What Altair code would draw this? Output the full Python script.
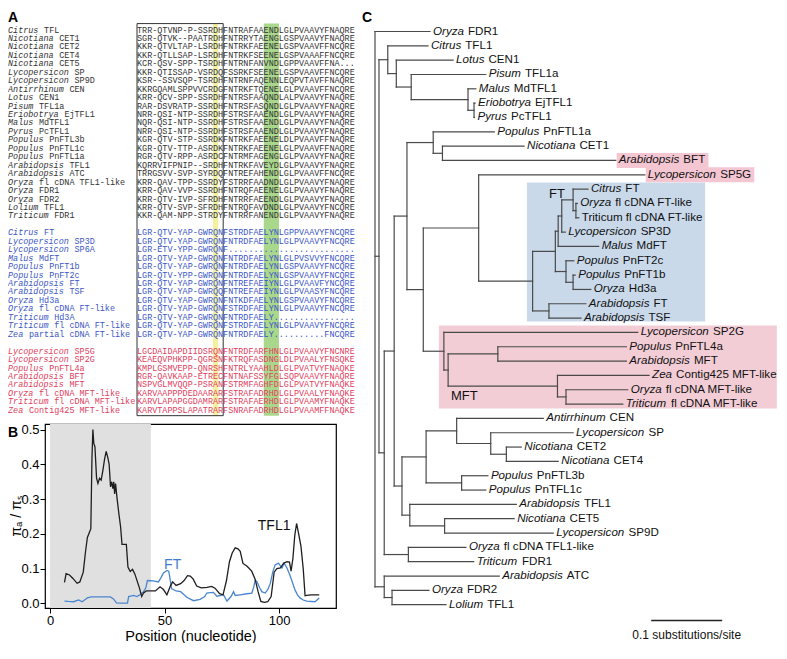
import altair as alt
import pandas as pd

# ================= Panel A : alignment =================
tfl_names = ["Citrus TFL", "Nicotiana CET1", "Nicotiana CET2", "Nicotiana CET4", "Nicotiana CET5",
             "Lycopersicon SP", "Lycopersicon SP9D", "Antirrhinum CEN", "Lotus CEN1", "Pisum TFL1a",
             "Eriobotrya EjTFL1", "Malus MdTFL1", "Pyrus PcTFL1", "Populus PnFTL3b", "Populus PnFTL1c",
             "Populus PnFTL1a", "Arabidopsis TFL1", "Arabidopsis ATC", "Oryza fl cDNA TFL1-like",
             "Oryza FDR1", "Oryza FDR2", "Lolium TFL1", "Triticum FDR1"]
tfl_seqs = ["TRR-QTVNP-P-SSRDHFNTRAFAAENDLGLPVAAVYFNAQRE",
            "SGR-QTVK--PAATRDHFNTRRYTAENGLGSPVAAVYFNAQRE",
            "KKR-QTVLTAP-LSRDHFNTRKFAEENELGSPVAAVFFNCQRE",
            "KKR-QTLLSAP-LSRDHFNTRKFSEENELGSPVAAAFFNCQRE",
            "KCR-QSV-SPP-TSRDHFNTRNFANVNDLGPPVAAVFFNA...",
            "KKR-QTISSAP-VSRDQFSSRKFSEENELGSPVAAVFFNCQRE",
            "KSR--SSVSQP-TSRDHFNTRNFAQENNLEQPVTAVFFNAQRE",
            "KKRGQAMLSPPVVCRDGFNTRKFTQENELGLPVAAVFFNCQRE",
            "KRR-QCV-SPP-SSRDHFNTRSFAAQNDLALPVAAVYFNAQRE",
            "RAR-DSVRATP-SSRDHFNTRSFASQNDLGLPVAAVYFNAQRE",
            "NRR-QSI-NTP-SSRDHFSTRSFAAENDLGLPVAAVYFNAQRE",
            "NQR-QSI-NTP-SSRDHFSTRSFAAENDLGLPVAAVYFNAQRE",
            "NRR-QSI-NTP-SSRDHFSTRSFAAENDLGLPVAAVYFNAQRE",
            "KGR-QTV-STP-SSRDKFNTRKFAEENELDLPVAAVFFNAQRE",
            "KGR-QTV-TTP-ASRDKFNTRKFAEENELGLPVAAVFFNAQRE",
            "RGR-QTV-RPP-ASRDCFNTRMFAGENGLGLPVAAVYFNAQRE",
            "KQRRVIFPNIP--SRDHFNTRKFAVEYDLGLPVAAVYFNAQRE",
            "TRRGSVV-SVP-SYRDQFNTREFAHENDLGLPVAAVFFNCQRE",
            "KRR-QAV-TPP-SSRDYFSTRRFAADNDLGLPVAAVYFNAQRE",
            "KRR-QAV-VVP-SSRDHFNTRQFAEENELGLPVAAVYFNAQRE",
            "KRR-QTV-IVP-SFRDHFNTRRFAEENDLGLPVAAVYFNAQRE",
            "KRR-QTV-SVP-SFRDHFNTRQFAVDNDLGLPVAAVYFNCQRE",
            "KKR-QAM-NPP-STRDYFNTRRFANENDLGLPVAAVYFNAQRE"]
ft_names = ["Citrus FT", "Lycopersicon SP3D", "Lycopersicon SP6A", "Malus MdFT", "Populus PnFT1b",
            "Populus PnFT2c", "Arabidopsis FT", "Arabidopsis TSF", "Oryza Hd3a", "Oryza fl cDNA FT-like",
            "Triticum Hd3A", "Triticum fl cDNA FT-like", "Zea partial cDNA FT-like"]
ft_seqs = ["LGR-QTV-YAP-GWRQNFSTRDFAELYNLGPPVAAVYFNCQRE",
           "LGR-QTV-YAP-GWRQNFNTRDFAELYNLGLPVAAVYFNCQRE",
           "LGR-ETV-YPP-GWRQNF.........................",
           "LGR-QTV-YAP-GWRQNFNTRDFAELYNLGLPVSVVYFNCQRE",
           "LGR-QTV-YAP-GWRQNFNTRDFAELYNLGSPVAAVYFNCQRE",
           "LGR-QTV-YPP-GWRQNFNTRDFAELYNLGSPVAAVYFNCQRE",
           "LGR-QTV-YAP-GWRQNFNTREFAEIYNLGLPVAAVFYNCQRE",
           "LGR-QTV-YAP-GWRQQFNTREFAEIYNLGLPVAASYFNCQRE",
           "LGR-QTV-YAP-GWRQNFNTKDFAELYNLGSPVAAVYFNCQRE",
           "LGR-QTV-YAP-GWRQNFSTRDFAELYNLGLPVAAVYFNCQRE",
           "LGR-QTV-YAP-GWRQNFNTRDFAELY................",
           "LGR-QTV-YAP-GWRQNFSTRDFAELYNLGLPVAAVYFNCQRE",
           "LGR-QTV-YAP-GWRQNFNTRDFAELY..........FNCQRE"]
mft_names = ["Lycopersicon SP5G", "Lycopersicon SP2G", "Populus PnFTL4a", "Arabidopsis BFT",
             "Arabidopsis MFT", "Oryza fl cDNA MFT-like", "Triticum fl cDNA MFT-like", "Zea Contig425 MFT-like"]
mft_seqs = ["LGCDAIDAPDIIDSRQNFNTRDFARFHNLGLPVAAVYFNCNRE",
            "KEAEQVPHKPP-QGRSNFKTRQFASDNGLDLPVAALYFNSQKE",
            "KMPLGSMVEPP-QNRSHFNTRLYAAHLDLGLPVATVYFNAQKE",
            "RGR-QAVKAAP-ETRECFNTNAFSSYFGLSQPVAAVYFNAQRE",
            "NSPVGLMVQQP-PSRANFSTRMFAGHFDLGLPVATVYFNAQKE",
            "KARVAAPPPDEDAARARFSTRAFADRHDLGLPVAALYFNAQKE",
            "KARVLAPAPGGDAMRARFSTRAFAERHDLGLPVAAMYFNAQKE",
            "KARVTAPPSLAPATRARFSNRAFADRHDLGLPVAAMFFNAQKE"]
yellow_cols = [16, 16]   # highlighted alignment columns (1-based, inclusive)
green_cols = [26, 28]
box_cols = [1, 17]

# ================= Panel B : pi_a / pi_s =================
tfl1_pos = [6.3, 7.0, 8.5, 10.0, 11.8, 13.0, 14.5, 15.5, 16.3, 17.2,
            17.8, 18.3, 18.7, 19.1, 19.6, 20.3, 20.9, 21.6, 22.3, 23.0,
            23.8, 24.5, 25.2, 25.8, 26.4, 26.9, 27.4, 27.8, 28.2, 28.6,
            29.2, 30.0, 30.8, 31.4, 32.2, 33.3, 34.0, 35.0, 36.0, 37.0,
            38.0, 39.0, 40.0, 40.8, 42.0, 44.0, 46.0, 48.0, 49.5, 51.0,
            52.5, 53.5, 55.0, 57.0, 58.5, 60.0, 61.2, 62.5, 64.0, 66.0,
            68.5, 70.5, 72.0, 74.0, 75.5, 77.0, 78.3, 79.5, 80.8, 82.0,
            83.0, 84.2, 86.0, 88.0, 89.5, 90.8, 92.0, 93.5, 95.0, 96.5,
            97.8, 99.0, 100.5, 102.0, 103.5, 104.5, 105.2, 106.0, 106.8, 107.6,
            108.5, 109.5, 110.5, 111.3, 112.0, 114.0, 116.0, 117.5]
tfl1_val = [0.061, 0.086, 0.082, 0.072, 0.058, 0.062, 0.09, 0.15, 0.19, 0.205,
            0.215, 0.42, 0.50, 0.46, 0.45, 0.36, 0.345, 0.36, 0.355, 0.38,
            0.415, 0.437, 0.42, 0.40, 0.335, 0.35, 0.33, 0.35, 0.315, 0.345,
            0.305, 0.26, 0.22, 0.17, 0.17, 0.17, 0.105, 0.092, 0.098, 0.085,
            0.065, 0.045, 0.02, 0.03, 0.036, 0.036, 0.036, 0.048, 0.04, 0.025,
            0.05, 0.062, 0.052, 0.057, 0.066, 0.08, 0.079, 0.07, 0.05, 0.045,
            0.046, 0.049, 0.044, 0.028, 0.025, 0.066, 0.12, 0.145, 0.16, 0.157,
            0.15, 0.115, 0.107, 0.093, 0.07, 0.034, 0.006, 0.003, 0.005, 0.02,
            0.09, 0.1, 0.102, 0.116, 0.12, 0.119, 0.093, 0.13, 0.195, 0.23,
            0.2, 0.165, 0.1, 0.022, 0.023, 0.025, 0.025, 0.025]
ft_pos = [6.3, 8.0, 10.3, 12.5, 14.0, 15.5, 16.3, 18.0, 22.0, 26.3,
          27.7, 29.0, 31.0, 33.8, 34.3, 36.5, 37.9, 39.2, 40.8, 41.8,
          42.5, 45.0, 47.3, 48.5, 49.5, 51.0, 51.8, 52.4, 53.0, 55.0,
          57.0, 59.7, 62.6, 65.5, 67.5, 68.4, 70.0, 71.3, 72.8, 75.7,
          77.2, 79.0, 80.1, 80.8, 83.0, 85.9, 88.1, 89.0, 89.5, 90.2,
          91.5, 92.4, 93.9, 95.0, 96.1, 97.2, 98.2, 99.7, 101.2, 102.2,
          103.4, 104.5, 105.5, 106.9, 108.0, 109.1, 110.5, 112.0, 115.6, 116.5,
          117.5]
ft_val = [0.007, 0.006, 0.005, 0.01, 0.005, 0.012, 0.016, 0.019, 0.019, 0.019,
          0.013, 0.002, 0.001, 0.001, 0.02, 0.023, 0.02, 0.025, 0.034, 0.045,
          0.066, 0.065, 0.062, 0.075, 0.088, 0.095, 0.093, 0.07, 0.043, 0.036,
          0.034, 0.018, 0.008, 0.012, 0.02, 0.03, 0.031, 0.032, 0.021, 0.025,
          0.007, 0.02, 0.034, 0.023, 0.025, 0.028, 0.030, 0.05, 0.066, 0.064,
          0.045, 0.034, 0.03, 0.04, 0.057, 0.09, 0.111, 0.116, 0.102, 0.116,
          0.102, 0.085, 0.066, 0.039, 0.025, 0.016, 0.01, 0.007, 0.005, 0.01,
          0.016]
shade_pos = [0, 44]
x_ticks = [0, 50, 100]
y_ticks = [0.0, 0.1, 0.2, 0.3, 0.4, 0.5]
series_labels = [("TFL1", 97.8, 0.224), ("FT", 53.5, 0.112)]

# ================= Panel C : tree =================
leaf_genus = ["Oryza", "Citrus", "Lotus", "Pisum", "Malus", "Eriobotrya", "Pyrus", "Populus", "Nicotiana",
              "Arabidopsis", "Lycopersicon", "Citrus", "Oryza", "", "Lycopersicon", "Malus", "Populus",
              "Populus", "Oryza", "Arabidopsis", "Arabidopsis", "Lycopersicon", "Populus", "Arabidopsis",
              "Zea", "Oryza", "Triticum", "Antirrhinum", "Lycopersicon", "Nicotiana", "Nicotiana", "Populus",
              "Populus", "Arabidopsis", "Nicotiana", "Lycopersicon", "Oryza", "Triticum", "Arabidopsis",
              "Oryza", "Lolium"]
leaf_rest = ["FDR1", "TFL1", "CEN1", "TFL1a", "MdTFL1", "EjTFL1", "PcTFL1", "PnFTL1a", "CET1", "BFT", "SP5G",
             "FT", "fl cDNA FT-like", "Triticum fl cDNA FT-like", "SP3D", "MdFT", "PnFT2c", "PnFT1b", "Hd3a",
             "FT", "TSF", "SP2G", "PnFTL4a", "MFT", "Contig425 MFT-like", "fl cDNA MFT-like",
             "fl cDNA MFT-like", "CEN", "SP", "CET2", "CET4", "PnFTL3b", "PnTFL1c", "TFL1", "CET5", "SP9D",
             "fl cDNA TFL1-like", "FDR1", "ATC", "FDR2", "TFL1"]
leaf_tip = [0.0775, 0.0746, 0.110, 0.156, 0.142, 0.141, 0.140, 0.168, 0.210, 0.339,
            0.380, 0.300, 0.285, 0.287, 0.268, 0.315, 0.280, 0.282, 0.304, 0.297,
            0.290, 0.370, 0.354, 0.354, 0.386, 0.356, 0.349, 0.237, 0.279, 0.206,
            0.258, 0.159, 0.156, 0.199, 0.196, 0.251, 0.128, 0.139, 0.175, 0.076,
            0.100]
# internal node = [depth, child, child, ...]; leaf = index into the leaf lists
tree = [0.0,
        0,
        [0.0056,
         [0.018, 1, [0.030, 2, [0.051, 3, [0.131, 4, [0.1395, 5, 6]]]]],
         [0.013,
          [0.027,
           [0.045,
            [0.082, 7, [0.095, 8, 9]],
            [0.068,
             [0.146, 10,
              [0.222,
               [0.254,
                [0.258, [0.263, [0.279, 11, [0.283, 12, 13]], 14], 15],
                [0.269, 16, [0.279, 17, 18]]],
               [0.245, 19, 20]]],
             [0.097, 21, [0.103, [0.173, 22, 23], [0.257, 24, [0.269, 25, 26]]]]]],
           [0.038,
            [0.072, [0.115, 27, [0.163, 28, [0.185, 29, 30]]], [0.122, 31, 32]],
            [0.049, 33, [0.098, 34, 35]]]],
          [0.047, 36, 37]]],
        [0.013, 38, [0.024, 39, 40]]]
highlighted_leaves = [9, 10]
clade_boxes = [("FT", 0.214, 0.465, 10.54, 20.24, "#c9d9ea", 0.245, 11.37),
               ("MFT", 0.090, 0.566, 20.52, 26.31, "#f3cdd6", 0.107, 25.47)]
scale_bar = 0.1

# ================= layout (page pixels) =================
FONT = "Liberation Sans"
MONO = "Liberation Mono"
PX0, PY0 = 45, 423            # page position of panel B's plot area
B_W, B_H = 291, 184
CW, ROW_H = 5.07, 8.45        # alignment character width / row height
A_LEFT, A_TOP = 8, 28.5       # page x of name column, page y of first row
LEAF_TOP, LEAF_H = 30.5, 14.33
ROOT_X, PX_PER_DEPTH = 375, 710.0
A_X = [A_LEFT - PX0, A_LEFT - PX0 + 100 * CW]
A_Y = [A_TOP - PY0, A_TOP - PY0 + 45 * ROW_H]
C_X = [ROOT_X - PX0, ROOT_X - PX0 + 0.5 * PX_PER_DEPTH]
C_Y = [LEAF_TOP - PY0, LEAF_TOP - PY0 + 40 * LEAF_H]
SEQ0 = (137 - A_LEFT) / CW    # column where sequences start
TREE_FS = 11.6
LETTER_TOP = 10

W = {' ': 278, '-': 333, '.': 278,
     'A': 667, 'B': 667, 'C': 722, 'D': 722, 'E': 667, 'F': 611, 'G': 778, 'H': 722, 'I': 278,
     'J': 500, 'K': 667, 'L': 556, 'M': 833, 'N': 722, 'O': 778, 'P': 667, 'Q': 778, 'R': 722,
     'S': 667, 'T': 611, 'U': 722, 'V': 667, 'W': 944, 'X': 667, 'Y': 667, 'Z': 611,
     'a': 556, 'b': 556, 'c': 500, 'd': 556, 'e': 556, 'f': 278, 'g': 556, 'h': 556, 'i': 222,
     'j': 222, 'k': 500, 'l': 222, 'm': 833, 'n': 556, 'o': 556, 'p': 556, 'q': 556, 'r': 333,
     's': 500, 't': 278, 'u': 556, 'v': 500, 'w': 722, 'x': 500, 'y': 500, 'z': 500}


def tw(s, size):
    return sum(W.get(c, 556) for c in s) * size / 1000.0


def sc(domain, rng=None):
    if rng is None:
        return alt.Scale(domain=domain, nice=False, zero=False)
    return alt.Scale(domain=domain, range=rng, nice=False, zero=False)


def ax(f):
    return alt.X(f, type="quantitative", scale=sc([0, 100], A_X), axis=None)


def ay(f):
    return alt.Y(f, type="quantitative", scale=sc([0, 45], A_Y), axis=None)


def cx(f):
    return alt.X(f, type="quantitative", scale=sc([0, 0.5], C_X), axis=None)


def cy(f):
    return alt.Y(f, type="quantitative", scale=sc([0, 40], C_Y), axis=None)


BX = [-2.2, 124.8]
BY = [-0.013, 0.516]

layers = []

# ---------- Panel A ----------
rows = []
r = 0
for names, seqs, col in [(tfl_names, tfl_seqs, "#333333"),
                         (ft_names, ft_seqs, "#3b56c6"),
                         (mft_names, mft_seqs, "#e0405e")]:
    for n, s in zip(names, seqs):
        g, rest = n.split(" ", 1)
        rows.append(dict(row=r, genus=g, rest=rest, ncol=0.0, rcol=len(g) + 1.12,
                         scol=SEQ0, seq=s, color=col))
        r += 1
    r += 1
rows_df = pd.DataFrame(rows)

hl_df = pd.DataFrame({
    "c0": [SEQ0 + yellow_cols[0] - 1, SEQ0 + green_cols[0] - 1],
    "c1": [SEQ0 + yellow_cols[1], SEQ0 + green_cols[1]],
    "r0": [-0.7, -0.7], "r1": [45.7, 45.7],
    "fill": ["#f5f09c", "#a9d88c"]})
layers.append(alt.Chart(hl_df).mark_rect().encode(
    x=ax("c0"), x2="c1", y=ay("r0"), y2="r1", fill=alt.Fill("fill:N", scale=None)))

box_df = pd.DataFrame({"c0": [SEQ0 + box_cols[0] - 1], "c1": [SEQ0 + box_cols[1]],
                       "r0": [-0.7], "r1": [45.7]})
layers.append(alt.Chart(box_df).mark_rect(fillOpacity=0, stroke="#333333", strokeWidth=1).encode(
    x=ax("c0"), x2="c1", y=ay("r0"), y2="r1"))

layers.append(alt.Chart(rows_df).mark_text(font=MONO, fontSize=8.45, fontStyle="italic",
                                           align="left", baseline="middle").encode(
    x=ax("ncol"), y=ay("row"), text="genus:N", color=alt.Color("color:N", scale=None)))
layers.append(alt.Chart(rows_df).mark_text(font=MONO, fontSize=8.45,
                                           align="left", baseline="middle").encode(
    x=ax("rcol"), y=ay("row"), text="rest:N", color=alt.Color("color:N", scale=None)))
layers.append(alt.Chart(rows_df).mark_text(font=MONO, fontSize=8.45,
                                           align="left", baseline="middle").encode(
    x=ax("scol"), y=ay("row"), text="seq:N", color=alt.Color("color:N", scale=None)))

letters_ab = pd.DataFrame({"c": [0.0, 0.0],
                           "r": [(LETTER_TOP - A_TOP) / ROW_H, (PY0 + 2 - A_TOP) / ROW_H],
                           "t": ["A", "B"]})
layers.append(alt.Chart(letters_ab).mark_text(font=FONT, fontSize=14, fontWeight="bold",
                                              align="left", baseline="top", color="black").encode(
    x=ax("c"), y=ay("r"), text="t:N"))

# ---------- Panel B ----------
shade_df = pd.DataFrame({"x0": [shade_pos[0]], "x1": [shade_pos[1]], "y0": [BY[0]], "y1": [BY[1]]})
layers.append(alt.Chart(shade_df).mark_rect(color="#e0e0e0").encode(
    x=alt.X("x0:Q", scale=sc(BX), axis=None), x2="x1:Q",
    y=alt.Y("y0:Q", scale=sc(BY), axis=None), y2="y1:Q"))

tfl_df = pd.DataFrame({"pos": tfl1_pos, "val": tfl1_val})
ft_df = pd.DataFrame({"pos": ft_pos, "val": ft_val})

layers.append(alt.Chart(ft_df).mark_line(color="#4a86d0", strokeWidth=1.3).encode(
    x=alt.X("pos:Q", scale=sc(BX), axis=None),
    y=alt.Y("val:Q", scale=sc(BY), axis=None)))

layers.append(alt.Chart(tfl_df).mark_line(color="#1e1e1e", strokeWidth=1.3).encode(
    x=alt.X("pos:Q", scale=sc(BX),
            axis=alt.Axis(orient="bottom", values=x_ticks, title="Position (nucleotide)",
                          grid=False, domain=False, tickSize=5, tickColor="black", tickWidth=1,
                          labelFont=FONT, labelFontSize=13, labelColor="black", labelPadding=1,
                          titleFont=FONT, titleFontSize=14.5, titleFontWeight="normal",
                          titleColor="black", titlePadding=2)),
    y=alt.Y("val:Q", scale=sc(BY),
            axis=alt.Axis(orient="left", values=y_ticks, format=".1f", title="πₐ / πₛ",
                          grid=False, domain=False, tickSize=5, tickColor="black", tickWidth=1,
                          labelFont=FONT, labelFontSize=13, labelColor="black", labelPadding=1,
                          titleFont=FONT, titleFontSize=14, titleFontWeight="normal",
                          titleColor="black", titleX=-22, titleY=B_H / 2, titleAngle=270))))

lab_df = pd.DataFrame({"t": [s[0] for s in series_labels], "x": [s[1] for s in series_labels],
                       "y": [s[2] for s in series_labels], "c": ["#111111", "#3f7fce"]})
layers.append(alt.Chart(lab_df).mark_text(font=FONT, fontSize=14, align="center", baseline="middle").encode(
    x=alt.X("x:Q", scale=sc(BX), axis=None), y=alt.Y("y:Q", scale=sc(BY), axis=None),
    text="t:N", color=alt.Color("c:N", scale=None)))

# ---------- Panel C ----------
segs = []


def walk(node):
    if isinstance(node, int):
        return leaf_tip[node], float(node)
    d = node[0]
    kids = [walk(k) for k in node[1:]]
    ys = [k[1] for k in kids]
    for kd, ky in kids:
        segs.append(dict(x=d, x2=kd, y=ky, y2=ky))
    segs.append(dict(x=d, x2=d, y=min(ys), y2=max(ys)))
    return d, (min(ys) + max(ys)) / 2.0


walk(tree)
seg_df = pd.DataFrame(segs)

cb_df = pd.DataFrame({"x0": [b[1] for b in clade_boxes], "x1": [b[2] for b in clade_boxes],
                      "y0": [b[3] for b in clade_boxes], "y1": [b[4] for b in clade_boxes],
                      "fill": [b[5] for b in clade_boxes]})
layers.append(alt.Chart(cb_df).mark_rect().encode(
    x=cx("x0"), x2="x1", y=cy("y0"), y2="y1", fill=alt.Fill("fill:N", scale=None)))

hlrows = []
for i in highlighted_leaves:
    full = (leaf_genus[i] + " " + leaf_rest[i]).strip()
    hlrows.append(dict(x0=leaf_tip[i] + 1.0 / PX_PER_DEPTH,
                       x1=leaf_tip[i] + (3 + tw(full, TREE_FS) + 4) / PX_PER_DEPTH,
                       y0=i - 0.52, y1=i + 0.52))
layers.append(alt.Chart(pd.DataFrame(hlrows)).mark_rect(color="#f4c6d1").encode(
    x=cx("x0"), x2="x1", y=cy("y0"), y2="y1"))

layers.append(alt.Chart(seg_df).mark_rule(color="#4a4a4a", strokeWidth=1.2, strokeCap="square").encode(
    x=cx("x"), x2="x2", y=cy("y"), y2="y2"))

leaf_rows = []
for i in range(len(leaf_tip)):
    g = leaf_genus[i]
    off = (tw(g + " ", TREE_FS) + 0.8) / PX_PER_DEPTH if g else 0.0
    leaf_rows.append(dict(i=float(i), tip=leaf_tip[i], rx=leaf_tip[i] + off, g=g, rest=leaf_rest[i]))
leaf_df = pd.DataFrame(leaf_rows)
layers.append(alt.Chart(leaf_df).mark_text(font=FONT, fontSize=TREE_FS, fontStyle="italic", dx=3,
                                           align="left", baseline="middle", color="#111111").encode(
    x=cx("tip"), y=cy("i"), text="g:N"))
layers.append(alt.Chart(leaf_df).mark_text(font=FONT, fontSize=TREE_FS, dx=3,
                                           align="left", baseline="middle", color="#111111").encode(
    x=cx("rx"), y=cy("i"), text="rest:N"))

cl_df = pd.DataFrame({"t": [b[0] for b in clade_boxes], "x": [b[6] for b in clade_boxes],
                      "y": [b[7] for b in clade_boxes]})
layers.append(alt.Chart(cl_df).mark_text(font=FONT, fontSize=13, align="left", baseline="middle",
                                         color="#111111").encode(x=cx("x"), y=cy("y"), text="t:N"))

sb_df = pd.DataFrame({"x0": [0.389], "x1": [0.389 + scale_bar], "y": [41.1]})
layers.append(alt.Chart(sb_df).mark_rule(color="#222222", strokeWidth=1.5).encode(
    x=cx("x0"), x2="x1", y=cy("y")))
sbt_df = pd.DataFrame({"x": [0.389 + scale_bar / 2], "y": [42.1], "t": [f"{scale_bar} substitutions/site"]})
layers.append(alt.Chart(sbt_df).mark_text(font=FONT, fontSize=12, align="center", baseline="middle",
                                          color="#111111").encode(x=cx("x"), y=cy("y"), text="t:N"))

letter_c = pd.DataFrame({"x": [(362 - ROOT_X) / PX_PER_DEPTH], "y": [(LETTER_TOP - LEAF_TOP) / LEAF_H],
                         "t": ["C"]})
layers.append(alt.Chart(letter_c).mark_text(font=FONT, fontSize=14, fontWeight="bold",
                                            align="left", baseline="top", color="black").encode(
    x=cx("x"), y=cy("y"), text="t:N"))

chart = alt.layer(*layers).resolve_scale(x="independent", y="independent").properties(
    width=B_W, height=B_H, background="white",
    padding={"top": 2, "left": 0, "right": 0, "bottom": 0}
).configure_view(stroke="black", strokeWidth=1.2)

chart.save("out.html", embed_options={"renderer": "svg", "actions": False})
